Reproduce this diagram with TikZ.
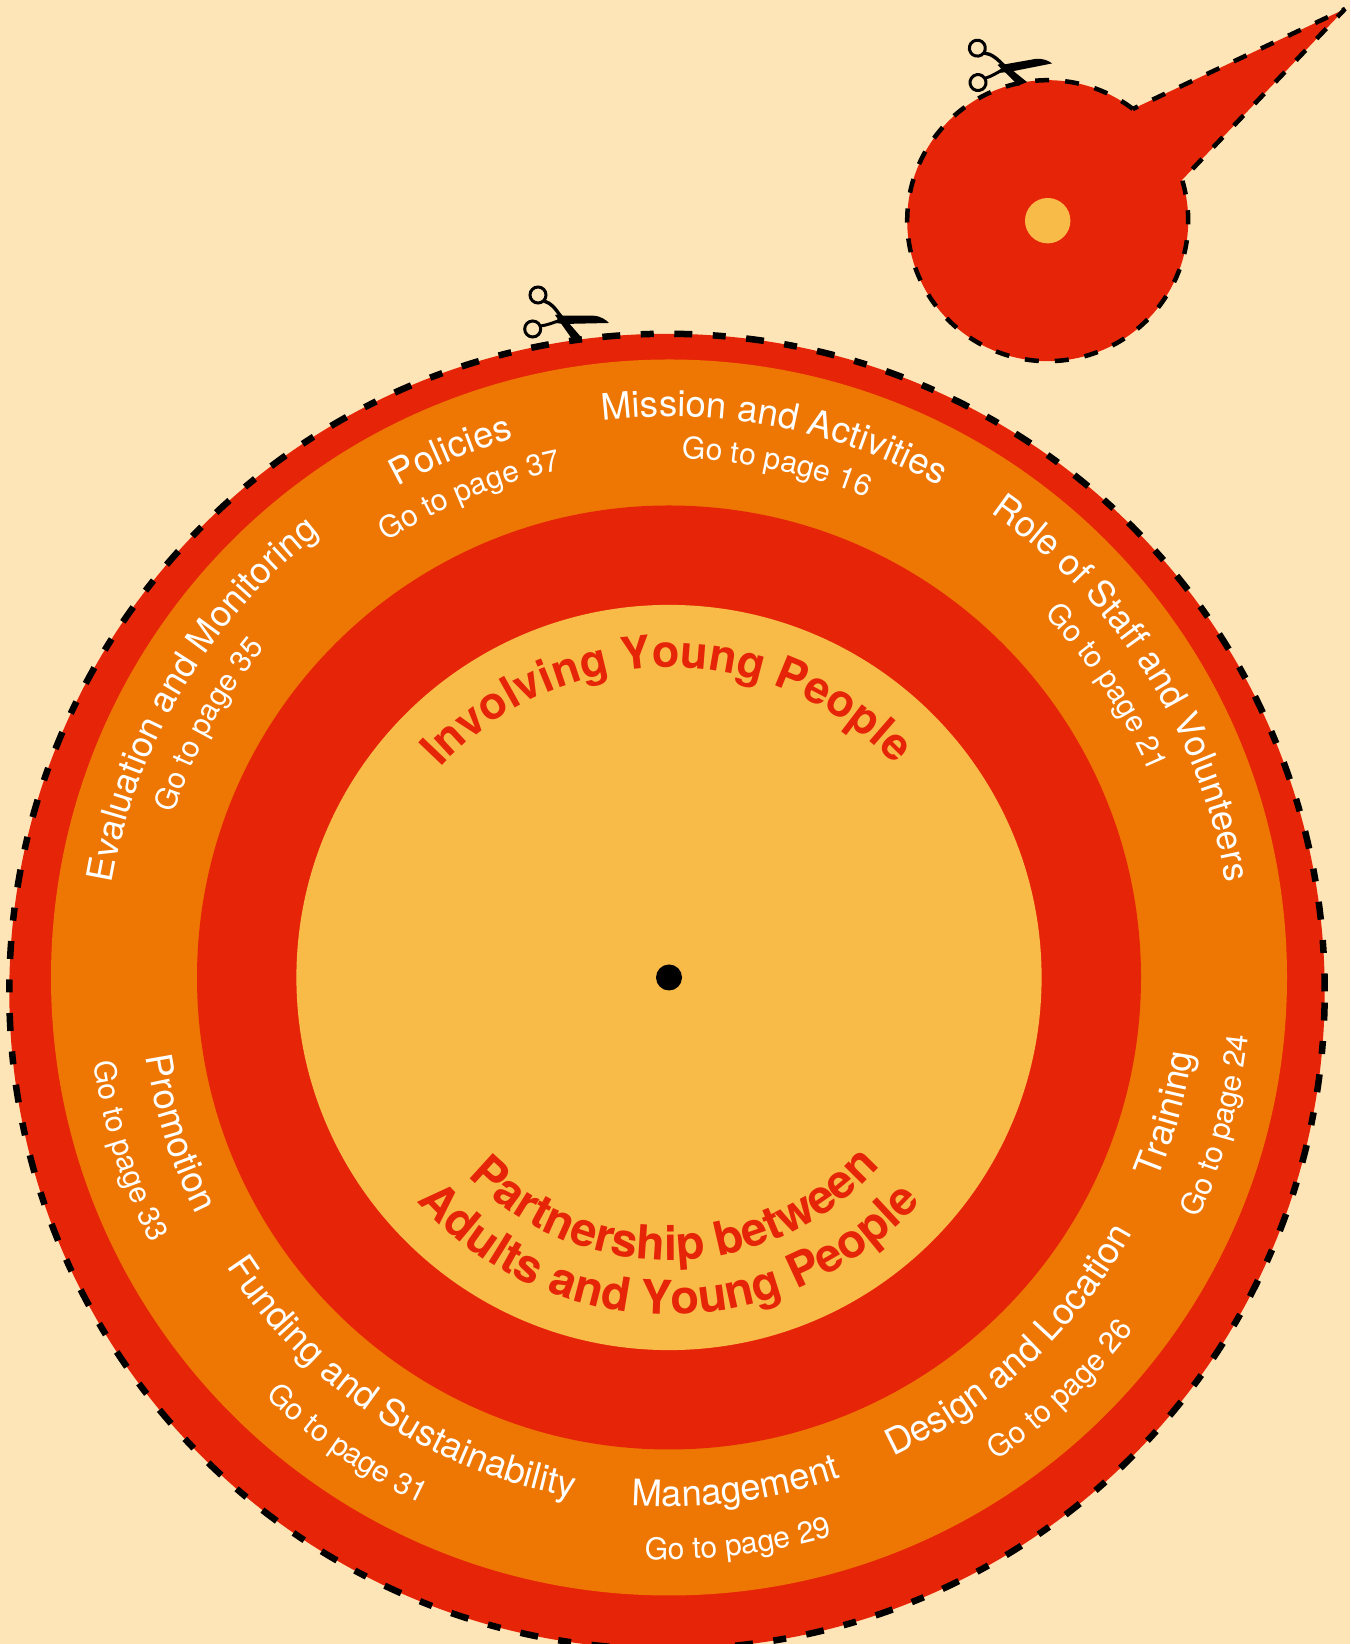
\documentclass[tikz,border=0pt]{standalone}
\usepackage{fontspec}
\setmainfont{TeX Gyre Heros}
\usetikzlibrary{decorations.text}
\definecolor{bgcream}{RGB}{253,229,183}
\definecolor{wheelred}{RGB}{230,36,8}
\definecolor{wheelorange}{RGB}{238,118,2}
\definecolor{wheelyellow}{RGB}{249,187,72}
\newcommand\headfont{\fontsize{36.5}{36.5}\selectfont\color{white}}
\newcommand\headfontc{\fontsize{36}{36}\selectfont\color{white}}
\newcommand\subfont{\fontsize{30}{30}\selectfont\color{white}}
\newcommand\titlefont{\fontsize{45}{45}\selectfont\bfseries\color{wheelred}}
\newcommand\titlefontb{\fontsize{47}{47}\selectfont\bfseries\color{wheelred}}
\newcommand\arclabel[5]{%
  \pgfmathsetmacro\adir{(#4>#3)?1:-1}%
  \pgfmathsetmacro\astart{#3-\adir*10}%
  \pgfmathsetmacro\aend{#4+\adir*10}%
  \path[decorate,decoration={text along path,text align=center,text={|#1|#5}}]
    (C) ++(\astart:#2) arc[start angle=\astart,end angle=\aend,radius=#2];
}
\tikzset{
  bigcut/.style={draw=black,line width=6.5pt,dash pattern=on 18pt off 20.5pt on 13pt off 20.5pt},
  smallcut/.style={draw=black,line width=4.5pt,line join=bevel,dash pattern=on 14pt off 16pt},
  scissors/.pic={
    \draw[black,line width=3pt] (-22,23) circle[radius=8];
    \draw[black,line width=3pt] (-27.3,-11) circle[radius=8];
    \draw[black,line width=3.4pt] (-16,17) .. controls (-9,15) and (-4,9) .. (1,1);
    \draw[black,line width=3pt] (-19.5,-8) .. controls (-12,-7) and (-8,-5) .. (1,-2);
    \fill[black] (-1,2.3) -- (33,2.3) .. controls (41,2) and (46,-2) .. (49,-5) -- (3,-6) -- (-4,-5) -- cycle;
    \fill[black] (-5,3) -- (1,4) -- (21,-19) -- (12,-21) -- cycle;
  }
}
\begin{document}
\begin{tikzpicture}[x=1pt,y=1pt]
\clip (0,0) rectangle (1350,1644);
\fill[bgcream] (0,0) rectangle (1350,1644);
% large wheel
\coordinate (C) at (669,666.5);
\coordinate (O) at (667,652.5);
\path[fill=wheelred] (O) circle[radius=657.7];
\path[bigcut] (O) circle[radius=657.7];
\fill[wheelorange] (C) circle[radius=618];
\fill[wheelred] (C) circle[radius=472];
\fill[wheelyellow] (C) circle[radius=372.6];
\fill[black] (C) circle[radius=13];
% top labels
\arclabel{\headfont}{561}{119}{106}{Policies}
\arclabel{\subfont}{519}{122.7}{102.2}{Go to page 37}
\arclabel{\headfont}{561}{97}{61}{Mission and Activities}
\arclabel{\subfont}{519}{88.6}{67.6}{Go to page 16}
\arclabel{\headfontc}{565}{55}{10}{Role of Staff and Volunteers}
\arclabel{\subfont}{522}{43.6}{23.5}{Go to page 21}
\arclabel{\headfontc}{565}{170.3}{128.3}{Evaluation and Monitoring}
\arclabel{\subfont}{522}{161}{141.5}{Go to page 35}
% bottom labels
\arclabel{\headfont}{529}{266.2}{288.7}{Management}
\arclabel{\subfont}{582}{267.7}{286.2}{Go to page 29}
\arclabel{\headfont}{529}{213.5}{259.2}{Funding and Sustainability}
\arclabel{\subfont}{582}{226.1}{244.8}{Go to page 31}
\arclabel{\headfont}{529}{188.5}{206.7}{Promotion}
\arclabel{\subfont}{582}{188.5}{207.1}{Go to page 33}
\arclabel{\headfont}{529}{295}{331.2}{Design and Location}
\arclabel{\subfont}{583}{304.2}{322.8}{Go to page 26}
\arclabel{\headfont}{529}{338}{351.3}{Training}
\arclabel{\subfont}{582}{335.7}{354.1}{Go to page 24}
% centre titles
\arclabel{\titlefont}{310}{138.4}{42.3}{Involving Young People}
\arclabel{\titlefontb}{283}{225.2}{317.6}{Partnership between}
\arclabel{\titlefontb}{337}{222.3}{317.7}{Adults and Young People}
% scissors on large wheel
\pic at (560,1326) {scissors};
% small disc
\coordinate (D) at (1047.7,1423.3);
\coordinate (tip) at (1345,1635);
\path[fill=wheelred] (D) ++(52.7:140.5) arc[start angle=52.7,end angle=376.9,radius=140.5] -- (tip) -- cycle;
\path[smallcut] (D) ++(52.7:140.5) arc[start angle=52.7,end angle=376.9,radius=140.5] -- (tip) -- cycle;
\fill[wheelyellow] (D) circle[radius=22.7];
\pic[rotate=10] at (1003,1577) {scissors};
\end{tikzpicture}
\end{document}
